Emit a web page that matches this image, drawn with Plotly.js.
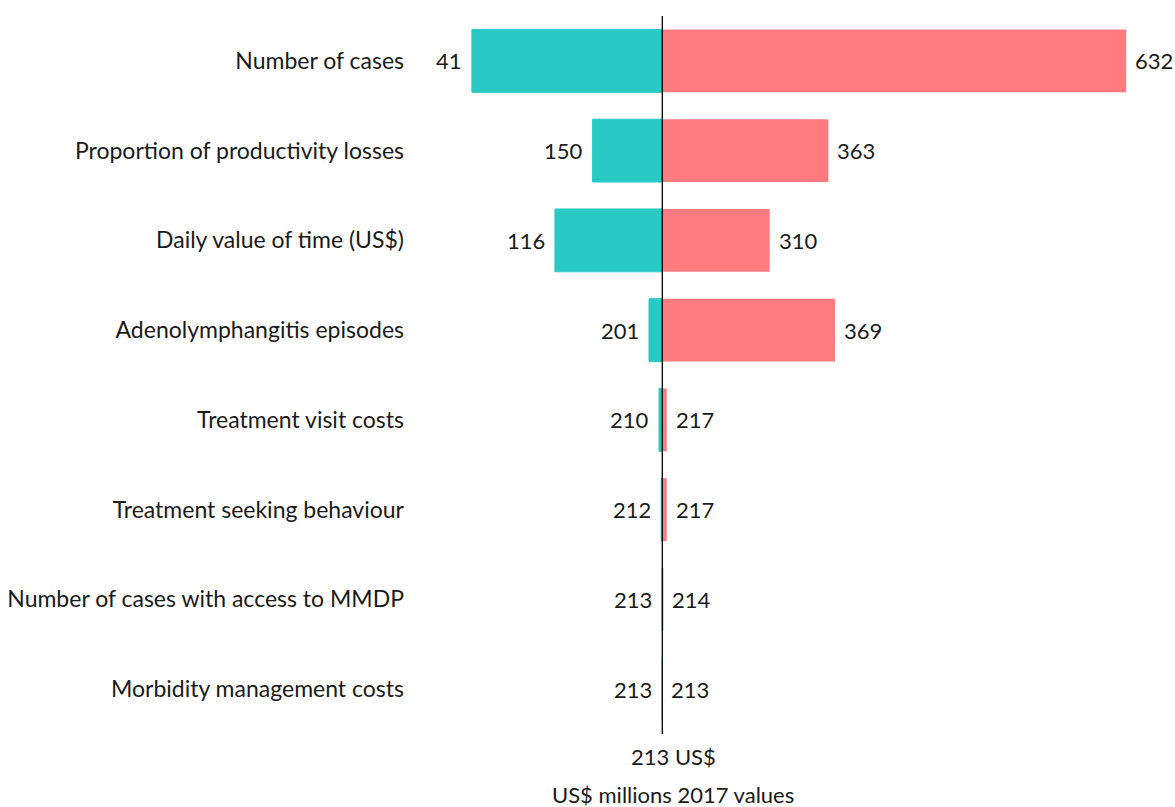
<!DOCTYPE html>
<html>
<head>
<meta charset="utf-8">
<script src="https://cdn.plot.ly/plotly-3.0.1.min.js"></script>
<style>html,body{margin:0;padding:0;background:#fff;}#chart{width:1175px;height:807px;}</style>
</head>
<body>
<div id="chart"></div>
<script>
var categories = ["Number of cases", "Proportion of productivity losses", "Daily value of time (US$)", "Adenolymphangitis episodes", "Treatment visit costs", "Treatment seeking behaviour", "Number of cases with access to MMDP", "Morbidity management costs"];
var lowValues = [41, 150, 116, 201, 210, 212, 213, 213];
var highValues = [632, 363, 310, 369, 217, 217, 214, 213];
var baseValue = 213;
var baseLabel = "213 US$";
var axisTitle = "US$ millions 2017 values";

var FONT = "Lato, 'Open Sans', sans-serif";
var TEAL = "#2acac4";
var SALMON = "#ff7b7f";

var lowTrace = {
  type: "bar", orientation: "h", y: categories,
  x: lowValues.map(function(v){ return v - baseValue; }),
  base: baseValue, width: 0.7,
  marker: {color: TEAL, line: {color: TEAL, width: 1}},
  hoverinfo: "none", showlegend: false
};
var highTrace = {
  type: "bar", orientation: "h", y: categories,
  x: highValues.map(function(v){ return v - baseValue; }),
  base: baseValue, width: 0.7,
  marker: {color: SALMON, line: {width: 0}},
  hoverinfo: "none", showlegend: false
};

var annotations = [];
categories.forEach(function(c, i){
  annotations.push({x: Math.min(lowValues[i], baseValue), y: c, xref: "x", yref: "y",
    text: String(lowValues[i]), showarrow: false, xanchor: "right", xshift: -8,
    font: {family: FONT, size: 22, color: "#1a1a1a"}});
  annotations.push({x: Math.max(highValues[i], baseValue), y: c, xref: "x", yref: "y",
    text: String(highValues[i]), showarrow: false, xanchor: "left", xshift: 7,
    font: {family: FONT, size: 22, color: "#1a1a1a"}});
});
annotations.push({x: baseValue, y: 0, xref: "x", yref: "paper", yanchor: "top", yshift: -7,
  xshift: 11, text: baseLabel, showarrow: false, font: {family: FONT, size: 22, color: "#1a1a1a"}});
annotations.push({x: baseValue, y: 0, xref: "x", yref: "paper", yanchor: "top", yshift: -45,
  xshift: 11, text: axisTitle, showarrow: false, font: {family: FONT, size: 22, color: "#1a1a1a"}});

var layout = {
  width: 1175, height: 807,
  margin: {l: 412, r: 5, t: 16, b: 73},
  paper_bgcolor: "#fff", plot_bgcolor: "#fff",
  barmode: "overlay",
  font: {family: FONT, size: 22, color: "#1a1a1a"},
  xaxis: {range: [-13.1, 671.6], showgrid: false, zeroline: false, showticklabels: false, ticks: "", showline: false, fixedrange: true},
  yaxis: {autorange: "reversed", showgrid: false, zeroline: false, ticks: "", showline: false,
    ticklabelstandoff: 7,
    tickfont: {family: FONT, size: 23, color: "#1a1a1a"}, fixedrange: true},
  shapes: [{type: "line", xref: "x", yref: "paper", x0: baseValue, x1: baseValue, y0: 0, y1: 1,
    line: {color: "#000", width: 1.3}}],
  annotations: annotations
};

Plotly.newPlot("chart", [lowTrace, highTrace], layout, {displayModeBar: false, staticPlot: true});
</script>
</body>
</html>
